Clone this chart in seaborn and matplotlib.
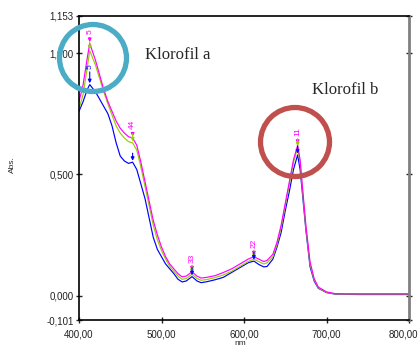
import matplotlib
matplotlib.use("Agg")
import pandas as pd
import matplotlib.pyplot as plt
import seaborn as sns
from matplotlib.patches import Circle
from matplotlib.transforms import IdentityTransform, ScaledTranslation
from matplotlib.ticker import FuncFormatter

wl = [400, 405, 410, 413, 420, 425, 430, 435, 440, 445, 450, 455, 460, 465, 470, 475,
      480, 485, 490, 495, 500, 505, 510, 515, 520, 525, 530, 537, 543, 548, 555, 565,
      575, 585, 595, 605, 612, 618, 624, 628, 635, 640, 645, 650, 655, 660, 665, 668,
      670, 675, 680, 685, 690, 700, 710, 720, 740, 800]

abs_magenta = [.80, .87, .98, 1.04, .97, .91, .85, .80, .76, .72, .69, .67, .655, .65, .62, .55,
               .47, .39, .31, .25, .20, .16, .13, .11, .09, .077, .08, .098, .08, .072, .075, .082,
               .095, .11, .13, .15, .16, .15, .14, .145, .17, .22, .29, .38, .47, .56, .62, .56,
               .48, .29, .14, .07, .035, .015, .008, .007, .007, .007]
abs_green = [.77, .83, .94, 1.01, .95, .895, .84, .79, .745, .70, .67, .65, .635, .63, .60, .53,
             .45, .37, .29, .23, .185, .15, .12, .10, .08, .067, .07, .088, .07, .063, .066, .074,
             .085, .10, .12, .14, .15, .14, .13, .135, .16, .21, .28, .37, .46, .55, .61, .55,
             .47, .28, .13, .065, .032, .013, .007, .006, .006, .006]
abs_blue = [.76, .80, .85, .87, .84, .81, .78, .75, .70, .63, .575, .555, .545, .55, .52, .46,
            .40, .32, .24, .19, .16, .13, .11, .09, .067, .056, .06, .078, .06, .053, .057, .065,
            .075, .095, .115, .135, .142, .128, .118, .12, .15, .20, .26, .35, .43, .52, .58, .52,
            .45, .27, .12, .06, .03, .012, .006, .005, .004, .004]

peak_wl = [413, 465, 537, 612, 665]
peak_lbl = ["5", "44", "33", "22", "11"]

series = ["s1", "s2", "s3"]
colors = {"s1": "#ff00ff", "s2": "#99cc00", "s3": "#0000ff"}

df = pd.concat([
    pd.DataFrame({"nm": wl, "Abs.": abs_magenta, "s": "s1"}),
    pd.DataFrame({"nm": wl, "Abs.": abs_green, "s": "s2"}),
    pd.DataFrame({"nm": wl, "Abs.": abs_blue, "s": "s3"}),
])

sns.set_style("ticks")
plt.rcParams["font.family"] = ["Liberation Sans", "DejaVu Sans"]

fig = plt.figure(figsize=(4.2, 3.47), dpi=100)
ax = fig.add_axes([79 / 420, 1 - 320 / 347, 330 / 420, 304 / 347])

sns.lineplot(data=df, x="nm", y="Abs.", hue="s", hue_order=series[::-1], palette=colors,
             linewidth=0.85, legend=False, ax=ax, sort=False)

# peak pick markers (label drawn once per peak, arrows per curve)
for s, ys in zip(series, [abs_magenta, abs_green, abs_blue]):
    for p, lb in zip(peak_wl, peak_lbl):
        yv = ys[wl.index(p)]
        if s == "s1":
            txt, off = lb, 9
        elif s == "s3" and p == 413:
            txt, off = lb, 16
        else:
            txt, off = "", 9
        ax.annotate(txt, xy=(p, yv), xytext=(0, off), textcoords="offset pixels",
                    rotation=90, ha="center", va="bottom", fontsize=6, color=colors[s],
                    arrowprops=dict(arrowstyle="-|>", color=colors[s], lw=0.8,
                                    mutation_scale=5, shrinkA=0, shrinkB=1))

ax.set_xlim(400, 800)
ax.set_ylim(-0.101, 1.153)
ax.set_xticks([400, 500, 600, 700, 800])
ax.set_yticks([-0.101, 0, 0.5, 1.0, 1.153])
ax.xaxis.set_major_formatter(FuncFormatter(lambda v, p: f"{v:.2f}".replace(".", ",")))
ax.yaxis.set_major_formatter(FuncFormatter(lambda v, p: f"{v:.3f}".replace(".", ",")))
ax.tick_params(axis="both", labelsize=7, length=4, width=1, direction="inout", colors="#222222")
ax.tick_params(axis="x", pad=5)
ax.tick_params(axis="y", pad=2)
ax.tick_params(axis="y", which="both", right=True, labelright=False)

# nudge the last x label so it stays inside the figure
last = ax.get_xticklabels()[-1]
last.set_transform(last.get_transform() + ScaledTranslation(-6 / 100, 0, fig.dpi_scale_trans))

ax.set_xlabel("nm", fontsize=6)
ax.set_ylabel("Abs.", fontsize=6)
ax.xaxis.set_label_coords(0.49, -0.065)
ax.yaxis.set_label_coords(-0.19, 0.51)

for side in ["left", "bottom", "top"]:
    ax.spines[side].set_visible(True)
    ax.spines[side].set_color("black")
    ax.spines[side].set_linewidth(1.2)
ax.spines["right"].set_visible(True)
ax.spines["right"].set_color("#808080")
ax.spines["right"].set_linewidth(2)

# highlight circles and annotations
fig.add_artist(Circle((93, 347 - 58), 33.5, fill=False, ec="#4bacc6", lw=3.8,
                      transform=IdentityTransform(), zorder=5))
fig.add_artist(Circle((295, 347 - 142), 34.5, fill=False, ec="#c0504d", lw=3.8,
                      transform=IdentityTransform(), zorder=5))
fig.text(145 / 420, 1 - 55 / 347, "Klorofil a", family="Liberation Serif", fontsize=12,
         va="center", ha="left")
fig.text(312 / 420, 1 - 90 / 347, "Klorofil b", family="Liberation Serif", fontsize=12,
         va="center", ha="left")

fig.savefig("out.png", dpi=100)
